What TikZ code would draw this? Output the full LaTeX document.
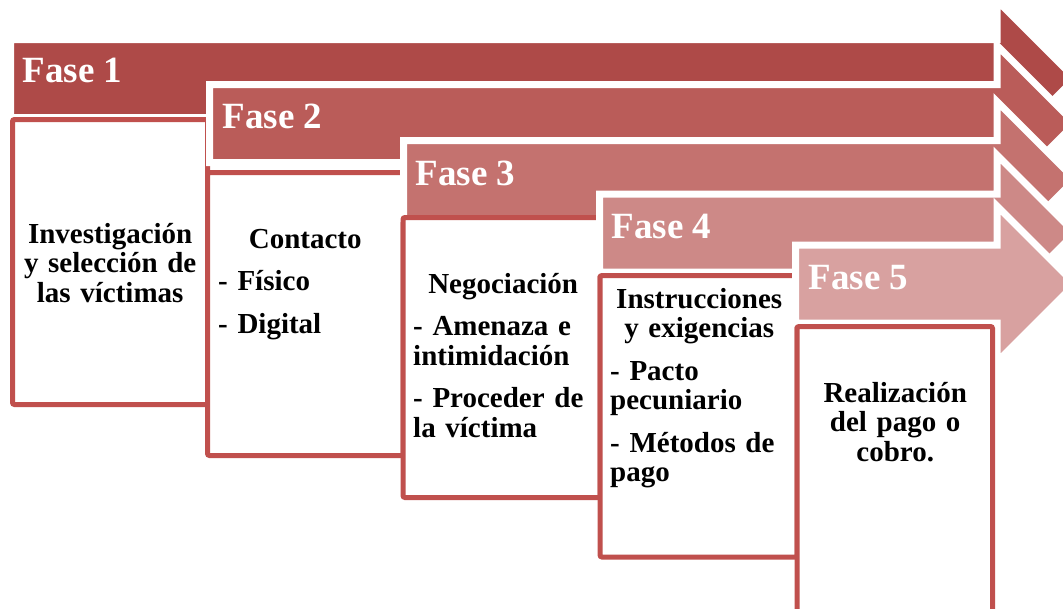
\documentclass[tikz,border=0pt]{standalone}
\usepackage{fontspec}
\setmainfont{Liberation Serif}
\definecolor{arA}{HTML}{AE4A48}
\definecolor{arB}{HTML}{BA5C59}
\definecolor{arC}{HTML}{C4726F}
\definecolor{arD}{HTML}{CD8987}
\definecolor{arE}{HTML}{D8A1A0}
\definecolor{boxred}{HTML}{C0504D}
\newcommand{\stepArrow}[3]{%
  \filldraw[fill=#3, draw=white, line width=7pt]
    (#1-3.5,#2-39) -- (997,#2-39) -- (997,#2-78) -- (1075,#2)
    -- (997,#2+78) -- (997,#2+39) -- (#1-3.5,#2+39) -- cycle;}
\newcommand{\cl}[1]{\noindent\hbox to \hsize{\hss #1\hss}}
\newcommand{\li}[1]{\noindent\hbox to \hsize{#1\hss}}
\newcommand{\fs}{\noindent\rule{0pt}{22pt}}
\tikzset{
  phasebox/.style={draw=boxred, fill=white, line width=5pt, rounded corners=2pt,
    rectangle, inner sep=0pt},
  phaselabel/.style={text=white, inner sep=0pt, anchor=base west,
    font=\fontsize{37pt}{40pt}\selectfont\bfseries},
  phasetext/.style={inner sep=0pt, anchor=north west, text=black, align=left,
    font=\fontsize{29pt}{29.5pt}\selectfont\bfseries}
}
\begin{document}
\begin{tikzpicture}[x=1pt,y=-1pt]
\useasboundingbox (0,0) rectangle (1063,608);
\clip (0,0) rectangle (1063,608);
% Fase 1
\stepArrow{14}{78.5}{arA}
\node[phaselabel] (f1) at (22.5,82) {Fase 1};
\node[phasebox, minimum width=195pt, minimum height=285pt] (b1) at (110,262) {};
\node[phasetext, text width=176pt] (t1) at (22,221)
  {\fs\cl{Investigación}\\\cl{y selección de}\\\cl{las víctimas}};
% Fase 2
\stepArrow{213}{123.5}{arB}
\node[phaselabel] (f2) at (222.5,128) {Fase 2};
\node[phasebox, minimum width=195.5pt, minimum height=283pt] (b2) at (305.25,314) {};
\node[phasetext, text width=174pt] (t2) at (218,226)
  {\fs\cl{Contacto}\\[13pt]\li{- Físico}\\[13pt]\li{- Digital}};
% Fase 3
\stepArrow{407}{179.5}{arC}
\node[phaselabel] (f3) at (415.5,185) {Fase 3};
\node[phasebox, minimum width=197pt, minimum height=280pt] (b3) at (501.5,357.5) {};
\node[phasetext, text width=180pt] (t3) at (413,271)
  {\fs\cl{Negociación}\\[13pt]\li{- Amenaza e}\\\li{intimidación}\\[13pt]\li{- Proceder de}\\\li{la víctima}};
% Fase 4
\stepArrow{603}{233}{arD}
\node[phaselabel] (f4) at (611.5,238) {Fase 4};
\node[phasebox, minimum width=197pt, minimum height=281.5pt] (b4) at (698.5,416.25) {};
\node[phasetext, text width=178pt] (t4) at (610,286)
  {\fs\cl{Instrucciones}\\\cl{y exigencias}\\[13pt]\li{- Pacto}\\\li{pecuniario}\\[13pt]\li{- Métodos de}\\\li{pago}};
% Fase 5
\stepArrow{799}{284}{arE}
\node[phaselabel] (f5) at (808.5,289) {Fase 5};
\node[phasebox, minimum width=195.5pt, minimum height=293.5pt] (b5) at (894.75,473.25) {};
\node[phasetext, text width=176pt] (t5) at (807,380)
  {\fs\cl{Realización}\\\cl{del pago o}\\\cl{cobro.}};
\end{tikzpicture}
\end{document}
